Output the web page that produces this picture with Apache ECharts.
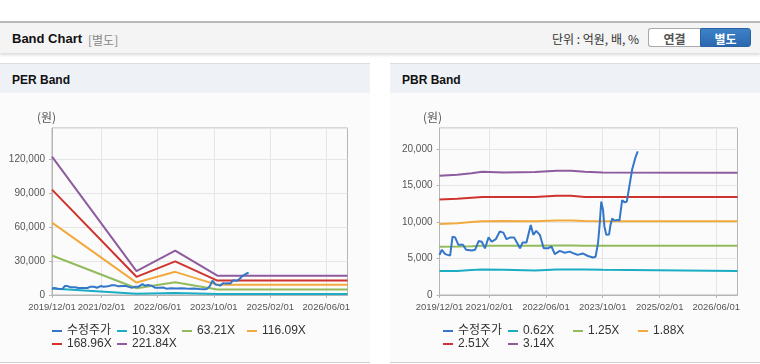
<!DOCTYPE html>
<html><head><meta charset="utf-8">
<script src="https://cdn.jsdelivr.net/npm/echarts@6/dist/echarts.min.js"></script>
<style>
body{margin:0;width:760px;height:364px;overflow:hidden;background:#fff;font-family:'Liberation Sans','Noto Sans CJK KR',sans-serif;position:relative}
#topbar{position:absolute;left:0;top:21px;width:760px;height:30px;background:#f4f4f4;border-top:2px solid #b8b8b8;box-shadow:0 2px 3px rgba(0,0,0,0.15)}
#title{position:absolute;left:12px;top:8px;font-size:13px;font-weight:bold;color:#111}
#sub{position:absolute;left:88px;top:8px;font-size:12px;color:#888;font-family:'Noto Sans CJK KR',sans-serif}
#unit{position:absolute;left:552px;top:7px;font-size:12px;color:#333;font-family:'Noto Sans CJK KR',sans-serif}
.btn{position:absolute;top:5px;height:19px;line-height:19px;text-align:center;font-size:12px;font-weight:bold;font-family:'Noto Sans CJK KR',sans-serif;box-sizing:border-box}
#b1{left:648px;width:52px;background:#fff;border:1px solid #aaa;border-right:none;border-radius:3px 0 0 3px;color:#555}
#b2{left:700px;width:51px;background:linear-gradient(#3e82c8,#2a68ae);border:1px solid #2a62a5;border-radius:0 3px 3px 0;color:#fff}
.panel{position:absolute;top:63px;height:298px;background:#fbfbfb;border-top:1px solid #dcdcdc;border-bottom:1px solid #d0d0d0}
.phead{position:absolute;left:0;top:0;right:0;height:29px;background:#eef1f6}
.ptitle{position:absolute;left:12px;top:9px;font-size:12px;font-weight:bold;color:#111}
#chart{position:absolute;left:0;top:0;width:760px;height:364px}
</style></head>
<body>
<div id="topbar">
  <div id="title">Band Chart</div><div id="sub">[별도]</div>
  <div id="unit">단위 : 억원, 배, %</div>
  <div class="btn" id="b1">연결</div><div class="btn" id="b2">별도</div>
</div>
<div class="panel" style="left:0;width:370px"><div class="phead"><div class="ptitle">PER Band</div></div></div>
<div class="panel" style="left:390px;width:370px"><div class="phead"><div class="ptitle">PBR Band</div></div></div>
<div id="chart"></div>
<script>
// ---------- data ----------
const xTickDates = ['2019-12-01','2021-02-01','2022-06-01','2023-10-01','2025-02-01','2026-06-01'];
const xMin = '2019-12-01', xMax = '2026-12-01';

const priceName = '수정주가';
const priceDates = ['2019-12-01','2019-12-21','2020-01-19','2020-02-03','2020-03-01','2020-03-22','2020-04-13','2020-05-10','2020-06-19','2020-07-16',
 '2020-09-03','2020-10-01','2020-11-01','2020-11-28','2020-12-25','2021-01-25','2021-02-21','2021-03-28','2021-05-01','2021-06-01',
 '2021-06-28','2021-08-01','2021-09-01','2021-09-25','2021-10-22','2021-11-13','2021-12-16','2022-01-22','2022-02-13','2022-03-10',
 '2022-04-10','2022-05-13','2022-06-19','2022-07-19','2022-08-16','2022-09-28','2022-11-10','2022-12-22','2023-02-04','2023-03-01',
 '2023-04-13','2023-05-28','2023-07-10','2023-08-01','2023-08-22','2023-09-04','2023-09-19','2023-10-04','2023-10-16','2023-11-01',
 '2023-11-25','2023-12-07','2023-12-22','2024-01-10','2024-02-01','2024-02-22','2024-03-16','2024-04-07','2024-04-25','2024-05-19',
 '2024-06-10','2024-07-07','2024-07-28'];
const price = [5500,6200,5600,5350,5400,8000,7900,6900,6900,6200,
 6100,6200,7400,7300,6400,7900,7300,7650,8700,8550,
 7650,7900,7900,7200,6400,7200,7200,9600,8250,8800,
 8250,6400,6400,6650,5600,6050,5800,5950,5650,5500,
 5700,5350,5150,5250,7100,9400,12800,11700,9400,8250,
 8300,9600,10500,10200,10300,10200,13000,12700,12800,15100,
 17200,18800,19700];

const perNames = ['10.33X','63.21X','116.09X','168.96X','221.84X'];
const perDates = ['2019-12-01','2021-12-01','2022-11-01','2023-11-01','2026-12-01'];
const per1 = [5700, 1000, 1830, 800, 800];
const per2 = [35000, 6000, 11200, 4900, 4900];
const per3 = [64000, 11000, 20500, 9000, 9000];
const per4 = [93300, 16100, 29800, 12800, 12800];
const per5 = [122400, 21200, 39200, 17100, 17100];

const pbrNames = ['0.62X','1.25X','1.88X','2.51X','3.14X'];
const pbrDates = ['2019-12-01','2020-05-01','2020-09-01','2020-12-01','2021-06-01','2022-03-01','2022-09-01','2023-01-01','2023-05-01','2023-10-01','2026-12-01'];
const pbr1 = [3300,3300,3420,3480,3450,3350,3480,3480,3480,3450,3300];
const pbr2 = [6600,6650,6700,6750,6750,6750,6800,6800,6750,6750,6750];
const pbr3 = [9750,9850,10000,10100,10150,10100,10200,10200,10150,10100,10100];
const pbr4 = [13100,13200,13350,13450,13450,13450,13600,13600,13450,13450,13450];
const pbr5 = [16350,16500,16700,16900,16800,16850,17050,17050,16900,16800,16750];

const perYTicks = {min:0, max:147800, interval:30000};
const pbrYTicks = {min:0, max:22900, interval:5000};

// ---------- styling ----------
const colors = ['#3477c8','#1badc4','#92bb5c','#f2aa3f','#d0332e','#8d5b9e'];
const chart = echarts.init(document.getElementById('chart'));
const pd = s => echarts.number.parseDate(s).getTime();
const fmt = v => { const d = new Date(v); return d.getFullYear()+'/'+String(d.getMonth()+1).padStart(2,'0')+'/'+String(d.getDate()).padStart(2,'0'); };
const numFont = "'Liberation Sans',sans-serif";
const zip = (ds, vs) => ds.map((d,i)=>[pd(d), vs[i]]);
const tickVals = xTickDates.map(pd);

// main x axis: line, ticks, split lines, labels at even positions
function xAxis(gi){
  return {type:'value', gridIndex:gi, min:pd(xMin), max:pd(xMax), position:'bottom',
    axisLine:{lineStyle:{color:'#b5b5b5'}},
    axisTick:{show:true, length:3, customValues:tickVals, lineStyle:{color:'#b5b5b5'}},
    axisLabel:{customValues:tickVals.filter((v,i)=>i%2===0), formatter:fmt, color:'#555', fontSize:9.5, fontFamily:numFont, margin:7,
      hideOverlap:false, showMinLabel:true, showMaxLabel:true},
    splitLine:{show:true, lineStyle:{color:'#e6e6e6'}}};
}
// companion x axis (same scale) carrying the odd-position labels
function xAxis2(gi){
  return {type:'value', gridIndex:gi, min:pd(xMin), max:pd(xMax), position:'bottom', offset:0,
    axisLine:{show:false}, axisTick:{show:false}, splitLine:{show:false},
    axisLabel:{customValues:tickVals.filter((v,i)=>i%2===1), formatter:fmt, color:'#555', fontSize:9.5, fontFamily:numFont, margin:7,
      hideOverlap:false, showMinLabel:true, showMaxLabel:true}};
}
function yAxis(gi, t){
  return {type:'value', gridIndex:gi, min:t.min, max:t.max, interval:t.interval,
    axisLine:{show:true, lineStyle:{color:'#b5b5b5'}},
    axisTick:{show:true, length:3, lineStyle:{color:'#b5b5b5'}},
    axisLabel:{color:'#555', fontSize:10, fontFamily:numFont, margin:7, showMaxLabel:false,
      formatter:v => v.toLocaleString('en-US')},
    splitLine:{show:true, lineStyle:{color:'#e6e6e6'}}};
}
function line(name, data, color, gi, z){
  return {type:'line', name, data, xAxisIndex:gi, yAxisIndex:gi, showSymbol:false, symbol:'none',
    lineStyle:{width:2, color}, itemStyle:{color}, z:z||2, animation:false};
}
function legends(names, x0){
  const all = [priceName].concat(names);
  return all.map((n,i)=>({data:[n], left:x0 + (i%4)*65, top: i<4 ? 325 : 338, icon:'rect', itemWidth:10, itemHeight:2,
    padding:0, itemGap:0, textStyle:{fontSize:12, color:'#333', fontFamily:"'Liberation Sans','Noto Sans CJK KR',sans-serif"}}));
}

const perSeries = [per1,per2,per3,per4,per5];
const pbrSeries = [pbr1,pbr2,pbr3,pbr4,pbr5];
const series = [];
series.push(line(priceName, zip(priceDates, price), colors[0], 0, 5));
perSeries.forEach((v,i)=>series.push(line(perNames[i], zip(perDates, v), colors[i+1], 0)));
series.push(line(priceName, zip(priceDates, price), colors[0], 1, 5));
pbrSeries.forEach((v,i)=>series.push(line(pbrNames[i], zip(pbrDates, v), colors[i+1], 1)));

chart.setOption({
  animation:false,
  color:colors,
  grid:[
    {left:52, top:128, width:295.5, height:167, show:true, borderColor:'#b5b5b5', borderWidth:1, backgroundColor:'transparent'},
    {left:439.5, top:128, width:298, height:167, show:true, borderColor:'#b5b5b5', borderWidth:1, backgroundColor:'transparent'}
  ],
  xAxis:[xAxis(0), xAxis(1), xAxis2(0), xAxis2(1)],
  yAxis:[yAxis(0, perYTicks), yAxis(1, pbrYTicks)],
  legend: legends(perNames, 52).concat(legends(pbrNames, 443)),
  graphic:[
    {type:'text', left:37, top:111, style:{text:'(원)', fontSize:12, fill:'#555', fontFamily:"'Noto Sans CJK KR',sans-serif"}},
    {type:'text', left:423, top:111, style:{text:'(원)', fontSize:12, fill:'#555', fontFamily:"'Noto Sans CJK KR',sans-serif"}}
  ],
  series
});
</script>
</body></html>
